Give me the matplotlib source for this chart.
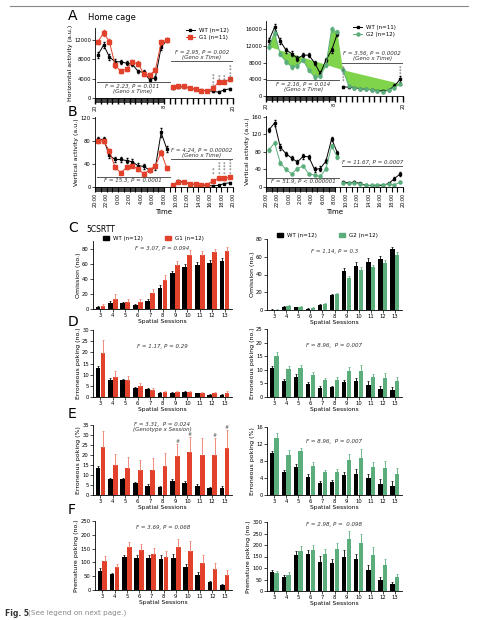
import numpy as np
import matplotlib.pyplot as plt
from matplotlib.lines import Line2D
from matplotlib.patches import Rectangle
import matplotlib.transforms as mtransforms

W, H = 478, 620

def box(l, t, r, b):
    return [l / W, 1 - b / H, (r - l) / W, (b - t) / H]

red = '#e2412b'
red_err = '#ee7a66'
green = '#5bae7b'
fill_green = '#7fd44c'

# ---- home cage data (hourly, starting 20:00) ----
hours = np.arange(24) + 0.5
wt_h1 = [8900, 11000, 8500, 7500, 7500, 7200, 7000, 5500, 5300, 3800, 4200, 10500,
         12000, 2000, 2300, 2300, 2000, 1800, 1600, 1500, 1400, 1200, 1700, 1900]
g1_h1 = [11600, 13500, 11700, 6800, 5500, 6000, 7400, 7100, 5000, 4700, 5800, 11500,
         12000, 2300, 2500, 2400, 2100, 1900, 1500, 1500, 2000, 3300, 3400, 3900]
wt_h1_err = [600, 700, 600, 500, 400, 400, 400, 400, 400, 400, 400, 600,
             500, 200, 200, 200, 200, 150, 150, 150, 150, 150, 200, 200]
g1_h1_err = [500, 600, 600, 500, 400, 400, 500, 500, 400, 400, 500, 600,
             500, 200, 200, 200, 200, 150, 150, 150, 200, 300, 300, 300]

wt_h2 = [13300, 16500, 13200, 11000, 10200, 9000, 9800, 9800, 8000, 5400, 8600, 11000,
         15000, 2200, 2100, 2000, 1700, 1600, 1500, 1300, 1200, 1400, 2400, 4000]
g2_h2 = [11800, 15200, 10000, 8200, 7000, 7200, 8600, 6200, 4600, 4700, 7400, 16000,
         15300, 6200, 2400, 2000, 1800, 1600, 1500, 1200, 1000, 1400, 2000, 2900]
wt_h2_err = [700, 800, 700, 600, 500, 500, 500, 500, 500, 500, 500, 600,
             700, 300, 200, 200, 200, 200, 200, 200, 200, 200, 400, 700]
g2_h2_err = [500, 600, 500, 500, 400, 400, 400, 400, 400, 400, 400, 600,
             600, 500, 200, 200, 200, 200, 200, 200, 200, 200, 300, 300]

wt_v1 = [83, 83, 55, 48, 48, 46, 44, 37, 36, 29, 34, 95,
         66, 3, 10, 8.5, 5.5, 4.5, 3.5, 3, 2, 3, 6, 7.5]
g1_v1 = [80, 80, 63, 34, 25, 34, 37, 31, 23, 30, 37, 60,
         33, 4, 8.5, 8, 5.5, 4.5, 3.5, 4, 11, 15, 15, 17.5]
wt_v1_err = [4, 4, 4, 4, 4, 4, 4, 4, 4, 3, 4, 7, 5, 1, 1.5, 1, 1, 1, 1, 1, 1, 1, 1.5, 1.5]
g1_v1_err = [3, 3, 4, 3, 3, 3, 3, 3, 3, 3, 3, 4, 4, 1, 1, 1, 1, 1, 1, 1, 1.5, 2, 2, 2]

wt_v2 = [130, 146, 91, 76, 66, 57, 70, 69, 40, 42, 59, 110,
         78, 11, 10, 11, 8, 4, 3, 3, 4, 8, 19, 30]
g2_v2 = [84, 101, 55, 40, 30, 42, 48, 30, 27, 24, 42, 93,
         69, 9, 8, 10, 6, 4, 4, 5, 5, 6, 5, 11]
wt_v2_err = [5, 6, 6, 5, 5, 5, 5, 5, 5, 5, 5, 5, 5, 2, 2, 2, 1, 1, 1, 1, 1, 2, 3, 4]
g2_v2_err = [4, 4, 4, 3, 3, 3, 3, 3, 3, 3, 4, 5, 4, 2, 1, 1, 1, 1, 1, 1, 1, 1, 1, 2]

time_labels = ['20:00', '22:00', '0:00', '2:00', '4:00', '6:00', '8:00',
               '10:00', '12:00', '14:00', '16:00', '18:00', '20:00']

# ---- 5CSRTT data ----
sessions = ['3', '4', '5', '6', '7', '8', '9', '10', '11', '12', '13']

om_wt1 = [2.7, 8.4, 7.5, 5.3, 10.6, 28.3, 47.7, 56, 58, 61, 64]
om_wt1_err = [1, 2, 2, 1, 2, 3, 3, 4, 4, 4, 4]
om_g1 = [4, 13.7, 9.7, 9.3, 20.8, 38.9, 58.8, 72, 72, 75, 77]
om_g1_err = [2, 6, 4, 4, 6, 6, 5, 6, 5, 5, 5]

om_wt2 = [0.5, 3.8, 3, 1.5, 5.6, 16.9, 44, 50, 54.5, 57, 68.4]
om_wt2_err = [0.3, 0.8, 0.8, 0.5, 1, 1.5, 3, 4, 4, 4, 3]
om_g2 = [0.3, 4.5, 3.8, 2.6, 7, 18, 36.4, 45, 48, 53, 62]
om_g2_err = [0.3, 0.8, 0.8, 0.6, 1, 1.5, 2, 4, 3, 3, 3]

err_wt1 = [12.9, 7.5, 7.5, 3.9, 3.5, 2, 2, 2.2, 1.7, 1, 1]
err_wt1_err = [0.8, 0.8, 0.6, 0.4, 0.4, 0.3, 0.3, 0.3, 0.3, 0.2, 0.2]
err_g1 = [19.9, 9, 7.8, 4.9, 3.2, 2.2, 2.2, 2.2, 1.7, 1.7, 2]
err_g1_err = [5.5, 2.5, 1.8, 1.2, 0.8, 0.4, 0.4, 0.4, 0.4, 0.5, 0.7]

err_wt2 = [10.7, 5.7, 7.5, 4.8, 3.3, 3.6, 5.5, 5.7, 4.5, 3, 2.5]
err_wt2_err = [0.6, 0.8, 1, 0.7, 0.8, 0.6, 0.8, 1.4, 1.2, 1, 1.3]
err_g2 = [15.2, 10.2, 10.8, 8.1, 6.3, 6.3, 9.5, 9.5, 7.3, 7.1, 5.7]
err_g2_err = [1.3, 1.2, 1, 1, 0.6, 1, 1.6, 2.4, 1.2, 1.6, 1.5]

pct_wt1 = [13.6, 7.8, 7.9, 5.8, 4.7, 3.9, 7.1, 6.2, 4.5, 3.4, 3.7]
pct_wt1_err = [1, 0.8, 0.8, 0.8, 0.6, 0.5, 0.8, 1, 1, 0.6, 1]
pct_g1 = [24.1, 15, 13.6, 12.6, 12.6, 14.7, 19.6, 21.5, 20, 20, 23.3]
pct_g1_err = [7.7, 5.4, 5.5, 5, 5.7, 6.5, 6, 7.3, 8.5, 8.5, 9.3]

pct_wt2 = [9.8, 5.4, 6.5, 4.3, 2.9, 3.1, 4.7, 5, 3.9, 2.7, 2.2]
pct_wt2_err = [0.6, 0.6, 0.8, 0.6, 0.5, 0.5, 0.7, 1.2, 1, 1, 1.2]
pct_g2 = [13.4, 9.5, 10.3, 6.9, 5.4, 5.4, 8.2, 8.6, 6.5, 6.3, 5]
pct_g2_err = [1.2, 1, 0.8, 0.9, 0.6, 0.8, 1.4, 2.2, 1.2, 1.6, 1.3]

pre_wt1 = [69, 57, 118, 116, 116, 114, 116, 83, 56, 28, 19]
pre_wt1_err = [10, 5, 10, 12, 12, 12, 15, 12, 10, 5, 3]
pre_g1 = [105, 83, 154, 144, 131, 120, 155, 141, 98, 77, 56]
pre_g1_err = [18, 10, 20, 23, 22, 20, 28, 38, 28, 22, 15]

pre_wt2 = [84, 61, 156, 159, 128, 121, 149, 141, 91, 50, 30]
pre_wt2_err = [7, 8, 18, 18, 25, 20, 30, 20, 20, 12, 10]
pre_g2 = [79, 69, 173, 177, 163, 182, 226, 209, 157, 112, 62]
pre_g2_err = [10, 12, 22, 22, 18, 25, 35, 40, 33, 28, 14]

plt.rcParams['font.family'] = 'DejaVu Sans'
plt.rcParams['axes.linewidth'] = 0.6

fig = plt.figure(figsize=(W / 100, H / 100), dpi=100)
fig.add_artist(Line2D([0.02, 0.98], [1 - 6 / H, 1 - 6 / H], color='#888888', lw=0.8))


def style(ax):
    ax.spines['top'].set_visible(False)
    ax.spines['right'].set_visible(False)
    ax.tick_params(labelsize=3.8, length=2, width=0.5, pad=1)


def night_strip(ax):
    trans = mtransforms.blended_transform_factory(ax.transData, ax.transAxes)
    ax.add_patch(Rectangle((0, -0.07), 12, 0.07, transform=trans, color='#444444',
                           clip_on=False, lw=0))
    ax.set_xlim(0, 24)
    ax.set_xticks(np.arange(25))
    ax.tick_params(axis='x', length=4, width=1.0)


def stat(ax, x, y, s, **kw):
    ax.text(x, y, s, fontsize=4, style='italic', color='#333333', ha='center',
            linespacing=1.0, **kw)


def stars(ax, x, y, n):
    ax.text(x, y, '\n'.join(['*'] * n), fontsize=3.5, color='#555555', ha='center',
            va='bottom', linespacing=0.55)


def line_panel(ax, wt, wt_e, g, g_e, col, mk):
    ax.errorbar(hours[:13], wt[:13], yerr=wt_e[:13], fmt='-s', color='black', ms=1.8, lw=0.7,
                elinewidth=0.5, capsize=0.8)
    ax.errorbar(hours[13:], wt[13:], yerr=wt_e[13:], fmt='-s', color='black', ms=1.8, lw=0.7,
                elinewidth=0.5, capsize=0.8)
    ax.errorbar(hours[:13], g[:13], yerr=g_e[:13], fmt='-' + mk, color=col, ms=2.2, lw=0.7,
                elinewidth=0.5, capsize=0.8)
    ax.errorbar(hours[13:], g[13:], yerr=g_e[13:], fmt='-' + mk, color=col, ms=2.2, lw=0.7,
                elinewidth=0.5, capsize=0.8)


# ---------------- A ----------------
ax = fig.add_axes(box(95, 28, 233, 98))
style(ax)
line_panel(ax, wt_h1, wt_h1_err, g1_h1, g1_h1_err, red, 's')
night_strip(ax)
ax.set_xticklabels(['20' if i in (0, 24) else ('8' if i == 12 else '') for i in range(25)],
                   rotation=90, fontsize=3.5)
ax.set_ylim(0, 14500)
ax.set_yticks([0, 4000, 8000, 12000])
ax.set_ylabel('Horizontal activity (a.u.)', fontsize=4.5, labelpad=1)
ax.plot([0.3, 13], [3400, 3400], color='#555555', lw=0.7)
stat(ax, 6.5, 3000, 'F = 2.23, P = 0.011\n(Geno x Time)', va='top')
ax.plot([13.3, 24], [7600, 7600], color='#555555', lw=0.7)
stat(ax, 18.6, 7900, 'F = 2.95, P = 0.002\n(Geno x Time)', va='bottom')
for hx, n in [(20.5, 4), (21.5, 2), (22.5, 2), (23.5, 5)]:
    stars(ax, hx, 3200 if hx > 21 else 2000, n)
ax.legend(handles=[Line2D([], [], color='black', marker='s', ms=2, lw=0.7, label='WT (n=12)'),
                   Line2D([], [], color=red, marker='s', ms=2.2, lw=0.7, label='G1 (n=11)')],
          loc='upper right', bbox_to_anchor=(1.0, 1.05), fontsize=4, frameon=False,
          handlelength=1.6, borderpad=0.2, labelspacing=0.3)

ax = fig.add_axes(box(266, 21, 403, 96))
style(ax)
ax.fill(hours[:14], g2_h2[:14], color=fill_green, lw=0)
ax.fill(hours[13:], g2_h2[13:], color=fill_green, lw=0)
line_panel(ax, wt_h2, wt_h2_err, g2_h2, g2_h2_err, green, 'o')
night_strip(ax)
ax.set_xticklabels(['20' if i in (0, 24) else ('8' if i == 12 else '') for i in range(25)],
                   rotation=90, fontsize=3.5)
ax.set_ylim(0, 18000)
ax.set_yticks([0, 4000, 8000, 12000, 16000])
ax.plot([0.2, 12.8], [3800, 3800], color='#555555', lw=0.7)
stat(ax, 6.5, 3400, 'F = 2.16, P = 0.014\n(Geno x Time)', va='top')
ax.plot([13.3, 24], [8000, 8000], color='#555555', lw=0.7)
stat(ax, 18.6, 8300, 'F = 3.56, P = 0.0002\n(Geno x Time)', va='bottom')
stars(ax, 13.5, 3000, 5)
stars(ax, 23.5, 4600, 3)
ax.legend(handles=[Line2D([], [], color='black', marker='s', ms=2, lw=0.7, label='WT (n=11)'),
                   Line2D([], [], color=green, marker='o', ms=2.2, lw=0.7, label='G2 (n=12)')],
          loc='upper right', bbox_to_anchor=(0.98, 1.0), fontsize=4, frameon=False,
          handlelength=1.6, borderpad=0.2, labelspacing=0.3)

# ---------------- B ----------------
ax = fig.add_axes(box(95, 117, 233, 187))
style(ax)
line_panel(ax, wt_v1, wt_v1_err, g1_v1, g1_v1_err, red, 's')
night_strip(ax)
ax.set_xticks(np.arange(0, 25, 2))
ax.set_xticks(np.arange(25), minor=True)
ax.tick_params(axis='x', which='both', length=3.5, width=0.8)
ax.set_xticklabels(time_labels, rotation=90, fontsize=3.5)
ax.set_ylim(0, 122)
ax.set_yticks([0, 40, 80, 120])
ax.set_ylabel('Vertical activity (a.u.)', fontsize=4.5, labelpad=1)
ax.set_xlabel('Time', fontsize=5, labelpad=1)
ax.plot([0.3, 13], [18, 18], color='#555555', lw=0.7)
stat(ax, 6.5, 16, 'F = 15.3, P = 0.0001', va='top')
ax.plot([13.3, 24], [48, 48], color='#555555', lw=0.7)
stat(ax, 18.6, 50, 'F = 4.24, P = 0.00002\n(Geno x Time)', va='bottom')
for hx, n in [(20.5, 2), (21.5, 4), (22.5, 4), (23.5, 5)]:
    stars(ax, hx, 19, n)

ax = fig.add_axes(box(266, 116, 403, 187))
style(ax)
line_panel(ax, wt_v2, wt_v2_err, g2_v2, g2_v2_err, green, 'o')
night_strip(ax)
ax.set_xticks(np.arange(0, 25, 2))
ax.set_xticks(np.arange(25), minor=True)
ax.tick_params(axis='x', which='both', length=3.5, width=0.8)
ax.set_xticklabels(time_labels, rotation=90, fontsize=3.5)
ax.set_ylim(0, 162)
ax.set_yticks([0, 40, 80, 120, 160])
ax.set_ylabel('Vertical activity (a.u.)', fontsize=4.5, labelpad=1)
ax.set_xlabel('Time', fontsize=5, labelpad=1)
ax.plot([0.2, 12.8], [21, 21], color='#555555', lw=0.7)
stat(ax, 6.5, 19, 'F = 51.9, P < 0.000001', va='top')
ax.plot([13.3, 24], [48, 48], color='#555555', lw=0.7)
stat(ax, 18.6, 50, 'F = 11.67, P = 0.0007', va='bottom')


# ---------------- bar panels ----------------
def bar_panel(rect, wt, wt_e, g, g_e, col, ecol, ymax, yticks, ylabel, note, note_y):
    ax = fig.add_axes(box(*rect))
    style(ax)
    x = np.arange(len(sessions))
    ax.bar(x - 0.2, wt, 0.38, color='black', yerr=[np.zeros(len(wt)), wt_e],
           error_kw=dict(ecolor='black', elinewidth=0.6, capsize=1.0, capthick=0.5))
    ax.bar(x + 0.2, g, 0.38, color=col, yerr=[np.zeros(len(g)), g_e],
           error_kw=dict(ecolor=ecol, elinewidth=0.6, capsize=1.0, capthick=0.5))
    ax.set_xticks(x)
    ax.set_xticklabels(sessions)
    ax.set_xlim(-0.6, len(sessions) - 0.4)
    ax.set_ylim(0, ymax)
    ax.set_yticks(yticks)
    ax.set_ylabel(ylabel, fontsize=4.5, labelpad=1)
    ax.set_xlabel('Spatial Sessions', fontsize=4.3, labelpad=0.5)
    stat(ax, 5, note_y, note, va='center')
    return ax


ax = bar_panel((93, 241, 232, 309), om_wt1, om_wt1_err, om_g1, om_g1_err, red, red_err,
               90, [0, 20, 40, 60, 80], 'Omission (no.)', 'F = 3.07, P = 0.094', 80)
ax.legend(handles=[Rectangle((0, 0), 1, 1, color='black', label='WT (n=12)'),
                   Rectangle((0, 0), 1, 1, color=red, label='G1 (n=12)')],
          loc='lower left', bbox_to_anchor=(0.05, 0.95), ncol=2, fontsize=4, frameon=False,
          handlelength=1.0, handleheight=0.9, columnspacing=4, borderpad=0.1)

ax = bar_panel((267, 239, 402, 310), om_wt2, om_wt2_err, om_g2, om_g2_err, green, green,
               80, [0, 20, 40, 60, 80], 'Omission (no.)', 'F = 1.14, P = 0.3', 66)
ax.legend(handles=[Rectangle((0, 0), 1, 1, color='black', label='WT (n=12)'),
                   Rectangle((0, 0), 1, 1, color=green, label='G2 (n=12)')],
          loc='lower left', bbox_to_anchor=(0.05, 0.97), ncol=2, fontsize=4, frameon=False,
          handlelength=1.0, handleheight=0.9, columnspacing=4, borderpad=0.1)

bar_panel((93, 330, 232, 397), err_wt1, err_wt1_err, err_g1, err_g1_err, red, red_err,
          30, [0, 5, 10, 15, 20, 25, 30], 'Erroneous poking (no.)', 'F = 1.17, P = 0.29', 22.5)
bar_panel((267, 329, 402, 397), err_wt2, err_wt2_err, err_g2, err_g2_err, green, green,
          25, [0, 5, 10, 15, 20, 25], 'Erroneous poking (no.)', 'F = 8.96,  P = 0.007', 19)

ax = bar_panel((93, 425, 232, 495), pct_wt1, pct_wt1_err, pct_g1, pct_g1_err, red, red_err,
               35, [0, 5, 10, 15, 20, 25, 30, 35], 'Erroneous poking (%)',
               'F = 3.31,  P = 0.024\n(Genotype x Session)', 34)
for i in [6, 7, 9, 10]:
    ax.text(i + 0.2, pct_g1[i] + pct_g1_err[i] + 0.5, '#', fontsize=3.5, ha='center',
            color='#555555')
bar_panel((267, 427, 402, 495), pct_wt2, pct_wt2_err, pct_g2, pct_g2_err, green, green,
          16, [0, 4, 8, 12, 16], 'Erroneous poking (%)', 'F = 8.96,  P = 0.007', 12.7)

bar_panel((95, 521, 232, 590), pre_wt1, pre_wt1_err, pre_g1, pre_g1_err, red, red_err,
          250, [0, 50, 100, 150, 200, 250], 'Premature poking (no.)', 'F = 3.69, P = 0.068', 225)
bar_panel((267, 522, 402, 591), pre_wt2, pre_wt2_err, pre_g2, pre_g2_err, green, green,
          300, [0, 50, 100, 150, 200, 250, 300], 'Premature poking (no.)',
          'F = 2.98, P =  0.098', 290)

# ---------------- labels ----------------
for letter, y in [('A', 16), ('B', 112), ('C', 228), ('D', 322), ('E', 414), ('F', 510)]:
    fig.text(68 / W, 1 - y / H, letter, fontsize=10, va='center')
fig.text(88 / W, 1 - 17 / H, 'Home cage', fontsize=6, va='center')
fig.text(86 / W, 1 - 229 / H, '5CSRTT', fontsize=5.5, va='center')
fig.text(5 / W, 1 - 613 / H, 'Fig. 5', fontsize=5.5, weight='bold', va='center', color='#333333')
fig.text(28 / W, 1 - 613 / H, '(See legend on next page.)', fontsize=5.2, va='center',
         color='#888888')

plt.savefig('out.png', dpi=100)
